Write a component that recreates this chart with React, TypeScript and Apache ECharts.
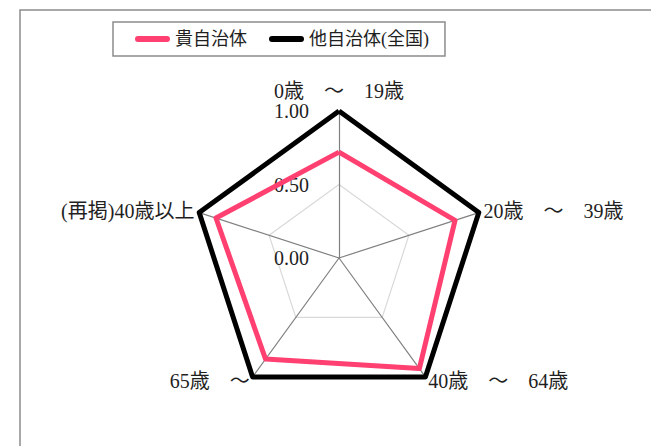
import React, { useEffect, useRef } from "react";
import * as echarts from "echarts";

const SP = "\u3000";
const indicatorNames = [
  `0歳${SP}～${SP}19歳`,
  `20歳${SP}～${SP}39歳`,
  `40歳${SP}～${SP}64歳`,
  `65歳${SP}～`,
  "(再掲)40歳以上",
];
const seriesNames = ["貴自治体", "他自治体(全国)"];
const ownValues = [0.72, 0.83, 0.93, 0.85, 0.88];
const nationalValues = [1.0, 1.0, 1.0, 1.0, 1.0];
const axisMax = 1.0;

// ECharts lays radar axes counter-clockwise; reorder so they run clockwise.
const ORDER = [0, 4, 3, 2, 1];

const FONT = "'Liberation Serif', 'Noto Sans CJK JP', serif";
const PINK = "#FF4070";
const TEXT = "#1f1f1f";

export default function App() {
  const ref = useRef<HTMLDivElement>(null);
  useEffect(() => {
    if (!ref.current) return;
    const chart = echarts.init(ref.current, undefined, { renderer: "svg" });
    const capsule = "path://M3,0 H32 A3,3 0 0 1 32,6 H3 A3,3 0 0 1 3,0 Z";
    const reorder = (arr: number[]) => ORDER.map((i) => arr[i]);
    chart.setOption({
      animation: false,
      backgroundColor: "#fff",
      textStyle: { fontFamily: FONT },
      graphic: [
        {
          type: "rect",
          shape: { x: 20, y: 10, width: 700, height: 500 },
          style: { fill: "none", stroke: "#8c8c8c", lineWidth: 1.5 },
          silent: true,
        },
      ],
      legend: {
        left: 113,
        top: 22,
        padding: [8, 16, 8, 22],
        itemGap: 22,
        itemWidth: 35,
        itemHeight: 6,
        borderColor: "#8c8c8c",
        borderWidth: 1.5,
        textStyle: { fontSize: 18, color: TEXT, fontFamily: FONT },
        data: [
          { name: seriesNames[0], icon: capsule, itemStyle: { color: PINK } },
          { name: seriesNames[1], icon: capsule, itemStyle: { color: "#000" } },
        ],
      },
      radar: {
        center: [339, 258],
        radius: 147,
        startAngle: 90,
        splitNumber: 2,
        shape: "polygon",
        nameGap: 5,
        axisName: { color: TEXT, fontSize: 20, fontFamily: FONT },
        axisLine: { lineStyle: { color: "#808080", width: 1.2 } },
        splitLine: { lineStyle: { color: "#d9d9d9", width: 1.2 } },
        splitArea: { show: false },
        axisTick: { show: false },
        axisLabel: { show: false },
        indicator: ORDER.map((idx, i) =>
          i === 0
            ? {
                name: indicatorNames[idx],
                min: 0,
                max: axisMax,
                axisLabel: {
                  show: true,
                  margin: 30,
                  fontSize: 20,
                  color: TEXT,
                  fontFamily: FONT,
                  formatter: (v: number) => v.toFixed(2),
                },
              }
            : { name: indicatorNames[idx], min: 0, max: axisMax }
        ),
      },
      series: [
        {
          type: "radar",
          symbol: "none",
          data: [
            {
              name: seriesNames[0],
              value: reorder(ownValues),
              lineStyle: { color: PINK, width: 5 },
              itemStyle: { color: PINK },
            },
            {
              name: seriesNames[1],
              value: reorder(nationalValues),
              lineStyle: { color: "#000", width: 5 },
              itemStyle: { color: "#000" },
            },
          ],
        },
      ],
    });
    return () => chart.dispose();
  }, []);
  return (
    <div
      ref={ref}
      style={{ position: "fixed", left: 0, top: 0, width: 651, height: 446, background: "#fff" }}
    />
  );
}
